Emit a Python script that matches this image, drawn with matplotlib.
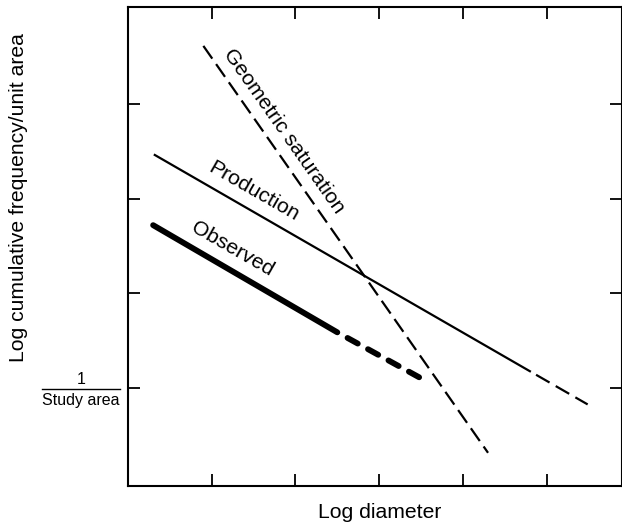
import matplotlib
matplotlib.use("Agg")
import matplotlib.pyplot as plt

plt.rcParams['font.family'] = ['Liberation Sans', 'DejaVu Sans']

# Line endpoints (log diameter, log cumulative frequency); y=0 is 1/Study area
geo_x = [0.90, 4.30]
geo_y = [3.61, -0.68]

prod_solid_x = [0.32, 4.80]
prod_solid_y = [2.46, 0.18]
prod_dash_x = [4.80, 5.49]
prod_dash_y = [0.18, -0.17]

obs_solid_x = [0.30, 2.50]
obs_solid_y = [1.72, 0.59]
obs_dash_x = [2.50, 3.49]
obs_dash_y = [0.59, 0.11]

x_ticks = [1, 2, 3, 4, 5]
y_ticks = [0, 1, 2, 3]

FS = 15.2

fig = plt.figure(figsize=(6.22, 5.26), dpi=100)
ax = fig.add_axes([128/622, 40/526, (622-128)/622, (486-7)/526])
ax.set_xlim(0, 5.90)
ax.set_ylim(-1.03, 4.02)

ax.plot(geo_x, geo_y, color='black', lw=1.6, linestyle=(0, (7, 3)))
ax.plot(prod_solid_x, prod_solid_y, color='black', lw=1.6)
ax.plot(prod_dash_x, prod_dash_y, color='black', lw=1.6, linestyle=(7, (7, 3.2)))
ax.plot(obs_solid_x, obs_solid_y, color='black', lw=4.2, solid_capstyle='round')
ax.plot(obs_dash_x, obs_dash_y, color='black', lw=4.2, linestyle=(2.0, (2.0, 2.0)),
        dash_capstyle='round')

ax.text(1.86, 2.71, 'Geometric saturation', rotation=-54.9, ha='center', va='center',
        fontsize=FS, rotation_mode='anchor')
ax.text(1.50, 2.08, 'Production', rotation=-29.9, ha='center', va='center',
        fontsize=FS, rotation_mode='anchor')
ax.text(1.25, 1.47, 'Observed', rotation=-29.8, ha='center', va='center',
        fontsize=FS, rotation_mode='anchor')

ax.set_xticks(x_ticks)
ax.set_yticks(y_ticks)
ax.set_xticklabels([])
ax.set_yticklabels([])
ax.tick_params(direction='in', length=8.5, width=1.3, top=True, right=True)
for s in ax.spines.values():
    s.set_linewidth(1.5)

fig.text(380/622, 1 - 513/526, 'Log diameter', ha='center', va='center', fontsize=FS)
fig.text(19/622, 1 - 198/526, 'Log cumulative frequency/unit area', ha='center', va='center',
         rotation=90, fontsize=FS)

# 1 / Study area fraction label
fig.text(81/622, 1 - 380/526, '1', ha='center', va='center', fontsize=11.5)
fig.text(81/622, 1 - 401/526, 'Study area', ha='center', va='center', fontsize=11.5)
fig.add_artist(plt.Line2D([42/622, 120/622], [1 - 389/526, 1 - 389/526], color='black', lw=1.0,
                          transform=fig.transFigure))

fig.savefig('out.png', dpi=100)
